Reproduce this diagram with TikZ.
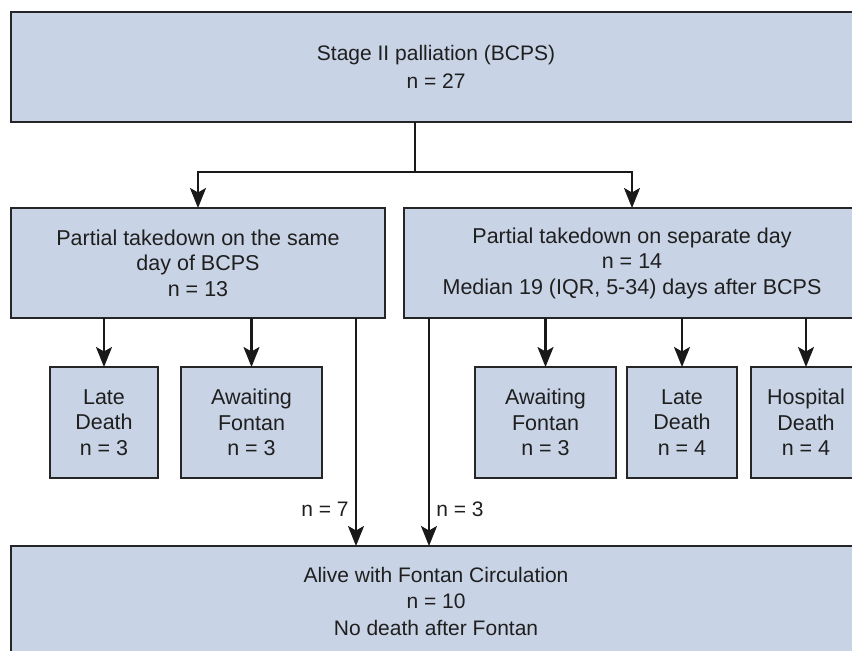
\documentclass[tikz,border=0pt]{standalone}
\usepackage{fontspec}
\setmainfont{Liberation Sans}
\usetikzlibrary{positioning,arrows.meta}
\definecolor{boxblue}{RGB}{200,211,229}
\definecolor{boxline}{RGB}{38,38,38}
\tikzset{
    box/.style ={
        shape=rectangle,
        draw=boxline,
        fill=boxblue,
        line width=2.6pt,
        inner sep=0pt,
        outer sep=0pt,
        align=center,
        text=black!88,
        font=\fontsize{21.5}{25.5}\selectfont
    },
    widebox/.style ={
        box,
        minimum width=850pt,
        minimum height=110pt
    },
    midbox/.style ={
        box,
        minimum height=110pt
    },
    leafbox/.style ={
        box,
        minimum height=111pt
    },
    arr/.style ={
        draw=black!90,
        line width=2.1pt,
        -{Stealth[length=20pt,width=16pt,inset=4.5pt]}
    }
}

\begin{document}
\begin{tikzpicture}[x=1pt,y=1pt]
    \useasboundingbox (0,0) rectangle (852,-651);
    \clip (0,0) rectangle (852,-651);
    \node[widebox,font=\fontsize{21}{28}\selectfont] (top) at (436,-67) {Stage II palliation (BCPS)\\n = 27};
    \node[midbox,minimum width=374pt,below=86pt of top,xshift=-238pt] (same) {Partial takedown on the same\\day of BCPS\\n = 13};
    \node[midbox,minimum width=456pt,below=86pt of top,xshift=196pt] (sep) {Partial takedown on separate day\\n = 14\\Median 19 (IQR, 5-34) days after BCPS};
    \node[leafbox,minimum width=108pt,below=49pt of same,xshift=-94pt] (ld1) {Late\\Death\\n = 3};
    \node[leafbox,minimum width=141pt,below=49pt of same,xshift=53.5pt] (af1) {Awaiting\\Fontan\\n = 3};
    \node[leafbox,minimum width=141pt,below=49pt of sep,xshift=-86.5pt] (af2) {Awaiting\\Fontan\\n = 3};
    \node[leafbox,minimum width=110pt,below=49pt of sep,xshift=50pt] (ld2) {Late\\Death\\n = 4};
    \node[leafbox,minimum width=110pt,below=49pt of sep,xshift=174pt] (hd) {Hospital\\Death\\n = 4};
    \node[widebox,font=\fontsize{21}{26.5}\selectfont,below=68pt of ld1,xshift=332pt] (alive) {Alive with Fontan Circulation\\n = 10\\No death after Fontan};
    \coordinate (fork) at (415,-172);
    \coordinate (dropA) at (356,0);
    \coordinate (dropB) at (429,0);
    \draw[draw=black!90,line width=2.1pt] (top.south -| fork) -- (fork);
    \draw[arr] (fork) -| (same.north);
    \draw[arr] (fork) -| (sep.north);
    \draw[arr] (same.south -| ld1) -- (ld1.north);
    \draw[arr] (same.south -| af1) -- (af1.north);
    \draw[arr] (sep.south -| af2) -- (af2.north);
    \draw[arr] (sep.south -| ld2) -- (ld2.north);
    \draw[arr] (sep.south -| hd) -- (hd.north);
    \draw[arr] (same.south -| dropA) -- (alive.north -| dropA)
        node[pos=0.84,left=3pt,text=black!88,font=\fontsize{21}{25}\selectfont] {n = 7};
    \draw[arr] (sep.south -| dropB) -- (alive.north -| dropB)
        node[pos=0.84,right=3pt,text=black!88,font=\fontsize{21}{25}\selectfont] {n = 3};
\end{tikzpicture}
\end{document}
